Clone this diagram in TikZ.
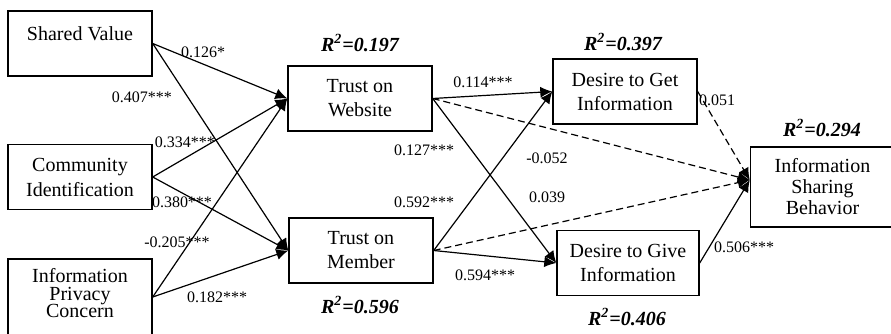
\documentclass[tikz,border=0pt]{standalone}
\usepackage{fontspec}
\setmainfont{Liberation Serif}
\usetikzlibrary{shapes,arrows.meta,calc,fit}

\begin{document}
\begin{tikzpicture}[x=0.5pt,y=-0.5pt,
	box/.style={draw, line width=0.7pt, minimum width=72pt, minimum height=32.5pt,
		align=center, inner sep=1pt, font=\fontsize{10}{12}\selectfont},
	rsq/.style={font=\fontsize{10}{12}\selectfont\bfseries\itshape},
	coef/.style={font=\fontsize{8}{9}\selectfont, inner sep=0pt},
	link/.style={line width=0.6pt, -{Latex[length=6pt,width=5.5pt]}},
	weak/.style={link, dash pattern=on 3.5pt off 2pt}]
	\useasboundingbox (0,0) rectangle (891,333);

	% antecedents
	\node[box] (sv) at (80,43.5) {Shared Value\\[-6pt] \strut};
	\node[box, font=\fontsize{10}{12.5}\selectfont] (ci) at (80,177) {Community\\Identification};
	\node[box, minimum height=38pt, text depth=4pt,
		font={\fontsize{10}{8.75}\selectfont\lineskiplimit=-5pt\relax}] (ipc) at (80,297) {Information\\Privacy\\Concern};

	% mediators
	\node[box] (tw) at (360,98.5) {Trust on\\Website};
	\node[box] (tm) at (361,250.5) {Trust on\\Member};
	\node[box] (dg) at (625,91.5) {Desire to Get\\Information};
	\node[box, minimum width=71pt] (dv) at (628,263) {Desire to Give\\Information};

	% outcome
	\node[box, minimum height=40pt, font=\fontsize{10}{10.5}\selectfont] (isb) at (822.5,187) {Information\\Sharing\\Behavior};
	\coordinate (isbin) at ($(isb.west)+(0,-7)$);

	% explained variance
	\node[rsq] (r-tw) at (360,43) {R\textsuperscript{2}=0.197};
	\node[rsq] (r-tm) at (360,305) {R\textsuperscript{2}=0.596};
	\node[rsq] (r-dg) at (623,42) {R\textsuperscript{2}=0.397};
	\node[rsq] (r-dv) at (627,317) {R\textsuperscript{2}=0.406};
	\node[rsq] (r-isb) at (822,128) {R\textsuperscript{2}=0.294};

	% paths
	\foreach \a in {sv,ci,ipc}
		\foreach \b in {tw,tm}
			\draw[link] (\a.east) -- (\b.west);
	\foreach \a in {tw,tm}
		\foreach \b in {dg,dv}
			\draw[link] (\a.east) -- (\b.west);
	\draw[weak] (tw.east) -- (isbin);
	\draw[weak] (tm.east) -- (isbin);
	\draw[weak] (dg.east) -- (isbin);
	\draw[link] (dv.east) -- (isbin);

	% path coefficients
	\foreach \x/\y/\val [count=\k] in
	{203/52/0.126*, 142/97/0.407***, 185/142/0.334***, 182/202/0.380***,
	 177/242/-0.205***, 217/297/0.182***, 483/82/0.114***, 424/150/0.127***,
	 547/158/-0.052, 424/202/0.592***, 547/197/0.039, 485/275/0.594***,
	 717/100/0.051, 744/247/0.506***}
	{
		\node[coef] (coef-\k) at (\x,\y) {\val};
	}
\end{tikzpicture}
\end{document}
